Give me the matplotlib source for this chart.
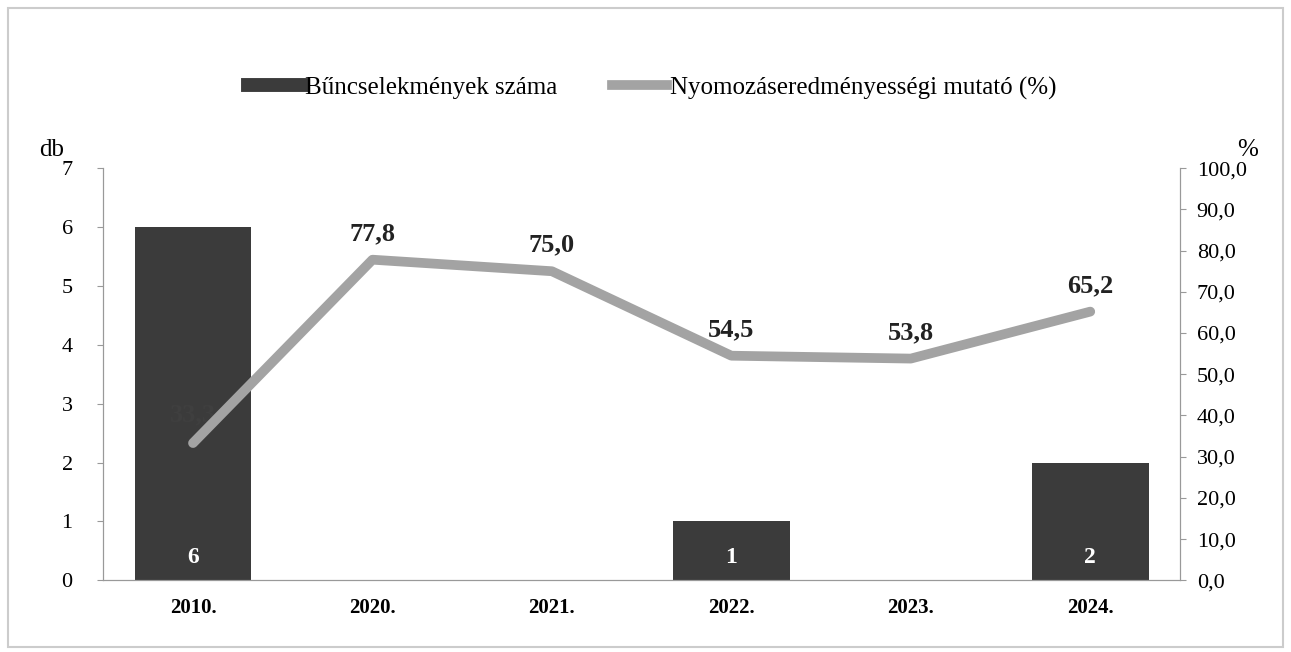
import matplotlib.pyplot as plt
from matplotlib.patches import Rectangle

plt.rcParams['font.family'] = ['Liberation Serif', 'DejaVu Serif']

years = ['2010.', '2020.', '2021.', '2022.', '2023.', '2024.']
crimes = [6, 0, 0, 1, 0, 2]
rate = [33.3, 77.8, 75.0, 54.5, 53.8, 65.2]

bar_color = '#3b3b3b'
line_color = '#a3a3a3'

fig = plt.figure(figsize=(12.91, 6.52), dpi=100)
ax = fig.add_axes([0.080, 0.110, 0.834, 0.632])
ax2 = ax.twinx()

x = list(range(len(years)))
ax.bar(x, crimes, width=0.65, color=bar_color, zorder=2)
ax2.plot(x, rate, color=line_color, lw=7, solid_capstyle='round', zorder=3)

# bar labels (white, at bottom of bars)
for xi, v in zip(x, crimes):
    if v > 0:
        ax.text(xi, 0.38, str(v), ha='center', va='center', color='white',
                fontsize=17, fontweight='bold', zorder=4)

# line labels
for xi, v in zip(x, rate):
    lbl = f'{v:.1f}'.replace('.', ',')
    if xi == 0:
        ax2.text(xi, v + 4, lbl, ha='center', va='bottom', color='#3f3f3f',
                 fontsize=19, fontweight='bold', zorder=1)
    else:
        ax2.text(xi, v + 3.5, lbl, ha='center', va='bottom', color='#222222',
                 fontsize=19, fontweight='bold', zorder=5)

ax.set_xlim(-0.5, 5.5)
ax.set_ylim(0, 7)
ax2.set_ylim(0, 100)
ax.set_xticks(x)
ax.set_xticklabels(years, fontsize=15, fontweight='bold')
ax.set_yticks(range(0, 8))
ax.tick_params(axis='y', labelsize=16, length=4, color='#999999', pad=18)
ax.tick_params(axis='x', length=0, pad=13)
ax2.set_yticks(range(0, 101, 10))
ax2.set_yticklabels([f'{t},0' for t in range(0, 101, 10)])
ax2.tick_params(axis='y', labelsize=16, length=4, color='#999999', pad=8)

for a in (ax, ax2):
    a.spines['top'].set_visible(False)
    for s in ('left', 'right', 'bottom'):
        a.spines[s].set_color('#999999')
        a.spines[s].set_linewidth(0.8)

fig.text(0.030, 0.77, 'db', fontsize=18, ha='left', va='center')
fig.text(0.958, 0.77, '%', fontsize=18, ha='left', va='center')

# legend
handles = [plt.Line2D([], [], color=bar_color, lw=10),
           plt.Line2D([], [], color=line_color, lw=7)]
fig.legend(handles, ['Bűncselekmények száma', 'Nyomozáseredményességi mutató (%)'],
           loc='center', bbox_to_anchor=(0.505, 0.865), ncol=2, frameon=False,
           fontsize=18, handlelength=2.2, handletextpad=0.1, columnspacing=2.2)

fig.patches.append(Rectangle((0.006, 0.008), 0.988, 0.98, transform=fig.transFigure,
                             fill=False, edgecolor='#cccccc', lw=1.5))

fig.savefig('out.png', dpi=100)
